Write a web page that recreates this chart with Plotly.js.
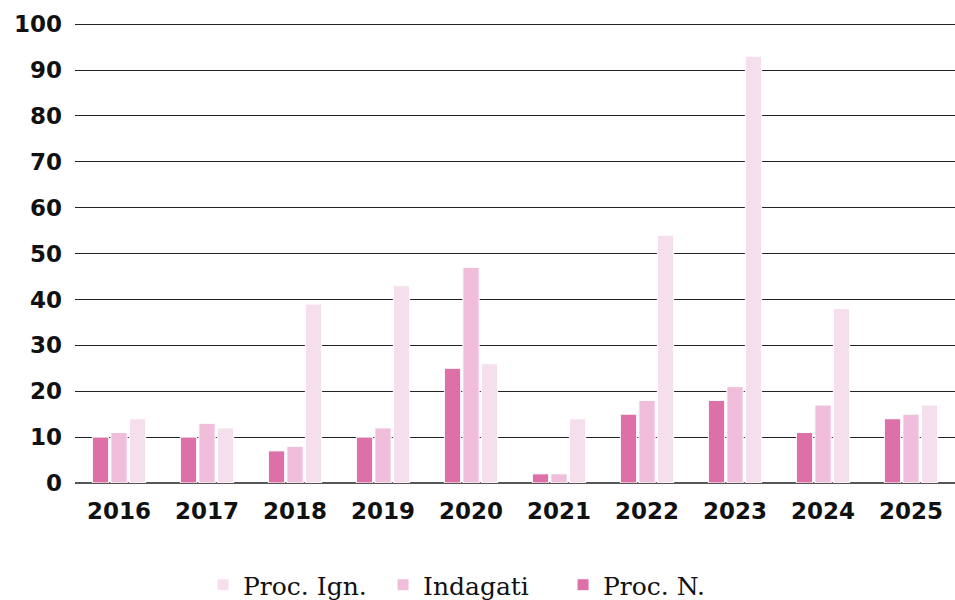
<!DOCTYPE html>
<html><head><meta charset="utf-8">
<script src="https://cdn.plot.ly/plotly-3.0.1.min.js"></script>
<style>body{margin:0;}#chart{width:955px;height:600px;}</style>
</head><body><div id="chart"></div>
<script>
const years = ["2016","2017","2018","2019","2020","2021","2022","2023","2024","2025"];
const procN = [10,10,7,10,25,2,15,18,11,14];
const indagati = [11,13,8,12,47,2,18,21,17,15];
const procIgn = [14,12,39,43,26,14,54,93,38,17];
const yTicks = [0,10,20,30,40,50,60,70,80,90,100];

const mk = (name, y, color) => ({
  type: "bar", name: name, x: years, y: y,
  marker: {color: color, line: {color: "#ffffff", width: 1}},
  hoverinfo: "x+y+name"
});
const data = [
  mk("Proc. N.", procN, "#de70a9"),
  mk("Indagati", indagati, "#f0bedb"),
  mk("Proc. Ign.", procIgn, "#f5dfec")
];
const layout = {
  width: 955, height: 600,
  margin: {l: 75, r: 0, t: 23, b: 117, autoexpand: false},
  paper_bgcolor: "#ffffff", plot_bgcolor: "#ffffff",
  barmode: "group", bargap: 0.37, bargroupgap: 0.12,
  font: {family: "DejaVu Sans", color: "#111111"},
  xaxis: {
    type: "category", showgrid: false, zeroline: false, showline: false,
    ticks: "", ticklabelstandoff: 12, automargin: false,
    tickfont: {family: "DejaVu Sans", size: 23, color: "#111111", weight: "bold"}
  },
  yaxis: {
    range: [0, 100.25], tickvals: yTicks, ticktext: yTicks.map(String),
    showgrid: true, gridcolor: "#222222", gridwidth: 1,
    zeroline: true, zerolinecolor: "#555555", zerolinewidth: 2,
    ticks: "", ticklabelstandoff: 12, automargin: false,
    tickfont: {family: "DejaVu Sans", size: 23, color: "#111111", weight: "bold"}
  },
  showlegend: true,
  legend: {
    orientation: "h", traceorder: "reversed",
    xref: "container", yref: "container",
    x: 0.2126, xanchor: "left", y: 0.025, yanchor: "middle",
    entrywidth: 135, entrywidthmode: "pixels",
    font: {family: "DejaVu Serif", size: 25, color: "#111111"}
  }
};
Plotly.newPlot("chart", data, layout, {displayModeBar: false});
</script></body></html>
